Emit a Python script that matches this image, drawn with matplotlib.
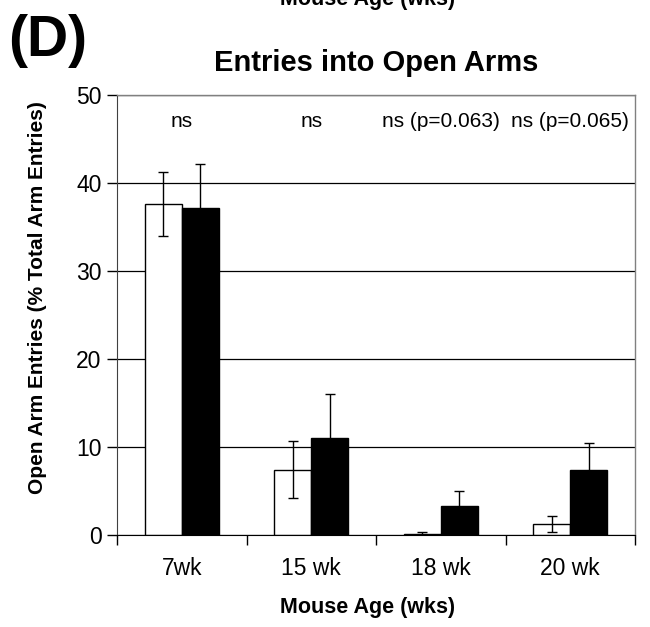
import matplotlib.pyplot as plt
import numpy as np

ages = ["7wk", "15 wk", "18 wk", "20 wk"]
white_mean = [37.6, 7.4, 0.15, 1.25]
white_err = [3.6, 3.25, 0.15, 0.9]
black_mean = [37.2, 11.0, 3.25, 7.4]
black_err = [5.0, 5.05, 1.8, 3.0]
sig_labels = ["ns", "ns", "ns (p=0.063)", "ns (p=0.065)"]

plt.rcParams["font.family"] = ["Liberation Sans", "DejaVu Sans"]

fig = plt.figure(figsize=(6.5, 6.27), dpi=100)
ax = fig.add_axes([0.18, 0.1467, 0.797, 0.702])

x = np.arange(len(ages))
bw = 1 / 3.5
ax.bar(x - bw / 2, white_mean, width=bw, color="white", edgecolor="black", lw=1.0, zorder=2)
ax.bar(x + bw / 2, black_mean, width=bw, color="black", edgecolor="black", lw=1.0, zorder=2)
ax.errorbar(x - bw / 2, white_mean, yerr=white_err, fmt="none", ecolor="black",
            elinewidth=1.0, capsize=3.3, capthick=1.0, zorder=3)
ax.errorbar(x + bw / 2, black_mean, yerr=black_err, fmt="none", ecolor="black",
            elinewidth=1.0, capsize=3.3, capthick=1.0, zorder=3)

for xi, lab in zip(x, sig_labels):
    ax.text(xi, 47.0, lab, ha="center", va="center", fontsize=15)

ax.set_xlim(-0.5, len(ages) - 0.5)
ax.set_ylim(0, 50)
ax.set_yticks(np.arange(0, 51, 10))
ax.yaxis.grid(True, color="black", lw=0.9)
ax.set_axisbelow(True)

# category labels in the middle, tick marks on the boundaries
ax.set_xticks(x, ages)
ax.tick_params(axis="x", length=0, labelsize=16.5, pad=16)
ax.set_xticks(np.arange(-0.5, len(ages)), minor=True)
ax.tick_params(axis="x", which="minor", length=7, width=1.0, direction="out")
ax.tick_params(axis="y", length=7, width=1.0, direction="out", labelsize=16.5, pad=4)

for side in ["top", "right"]:
    ax.spines[side].set_color("#808080")
    ax.spines[side].set_linewidth(1.0)
ax.spines["left"].set_color("#404040")
ax.spines["bottom"].set_color("black")

ax.set_ylabel("Open Arm Entries (% Total Arm Entries)", fontsize=15, fontweight="bold")
ax.yaxis.set_label_coords(-0.135, 0.54)
ax.set_xlabel("Mouse Age (wks)", fontsize=15.5, fontweight="bold")
ax.xaxis.set_label_coords(0.483, -0.14)
ax.set_title("Entries into Open Arms", fontsize=21, fontweight="bold", pad=17)

fig.text(0.012, 0.935, "(D)", fontsize=41, fontweight="bold", ha="left", va="center")
# bottom of the neighbouring panel's axis label, cut by the frame
fig.text(0.565, 1.0, "Mouse Age (wks)", fontsize=15.5, fontweight="bold", ha="center", va="center")

fig.savefig("out.png", dpi=100)
plt.close(fig)
